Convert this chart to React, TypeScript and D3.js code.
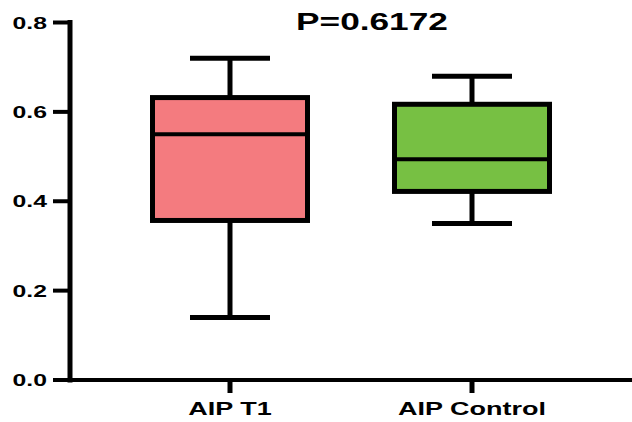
import React from 'react';
import * as d3 from 'd3';

const categories = ['AIP T1', 'AIP Control'];
const mins = [0.14, 0.35];
const q1s = [0.357, 0.422];
const medians = [0.55, 0.494];
const q3s = [0.632, 0.617];
const maxs = [0.72, 0.68];
const fills = ['#F47B7F', '#77C043'];
const yTicks = [0, 0.2, 0.4, 0.6, 0.8];
const title = 'P=0.6172';

const W = 632;
const H = 422;
const FONT = "'Liberation Sans', Arial, sans-serif";
const STRETCH = 1.5;

export default function App() {
  const y = d3.scaleLinear().domain([0, 0.8]).range([380, 22.5]);
  const x = d3.scalePoint<string>().domain(categories).range([230, 472]);
  const axisX = 70;
  const boxW = 155;
  const capW = 80;

  return (
    <svg
      width={W}
      height={H}
      style={{ position: 'absolute', left: 0, top: 0, background: '#fff' }}
    >
      {/* title */}
      <text
        transform={`translate(372,30) scale(${STRETCH},1)`}
        textAnchor="middle"
        fontFamily={FONT}
        fontWeight="bold"
        fontSize={23.5}
        fill="#000"
      >
        {title}
      </text>

      {/* boxes */}
      {categories.map((c, i) => {
        const cx = x(c) as number;
        return (
          <g key={c} stroke="#000" strokeWidth={5} fill="none">
            <line x1={cx} x2={cx} y1={y(maxs[i])} y2={y(q3s[i])} />
            <line x1={cx} x2={cx} y1={y(q1s[i])} y2={y(mins[i])} />
            <line x1={cx - capW / 2} x2={cx + capW / 2} y1={y(maxs[i])} y2={y(maxs[i])} />
            <line x1={cx - capW / 2} x2={cx + capW / 2} y1={y(mins[i])} y2={y(mins[i])} />
            <rect
              x={cx - boxW / 2}
              y={y(q3s[i])}
              width={boxW}
              height={y(q1s[i]) - y(q3s[i])}
              fill={fills[i]}
            />
            <line
              x1={cx - boxW / 2}
              x2={cx + boxW / 2}
              y1={y(medians[i])}
              y2={y(medians[i])}
              strokeWidth={4}
            />
          </g>
        );
      })}

      {/* y axis */}
      <line x1={axisX} x2={axisX} y1={y(0.8) - 2.5} y2={y(0) + 2.5} stroke="#000" strokeWidth={5} />
      {yTicks.map((t) => (
        <g key={t}>
          <line x1={53} x2={axisX} y1={y(t)} y2={y(t)} stroke="#000" strokeWidth={4} />
          <text
            transform={`translate(47,${y(t) + 6}) scale(${STRETCH},1)`}
            textAnchor="end"
            fontFamily={FONT}
            fontWeight="bold"
            fontSize={16.5}
            fill="#000"
          >
            {t.toFixed(1)}
          </text>
        </g>
      ))}

      {/* x axis */}
      <line x1={axisX} x2={W} y1={y(0)} y2={y(0)} stroke="#000" strokeWidth={4} />
      {categories.map((c) => {
        const cx = x(c) as number;
        return (
          <g key={c}>
            <line x1={cx} x2={cx} y1={y(0)} y2={y(0) + 13} stroke="#000" strokeWidth={5} />
            <text
              transform={`translate(${cx},415) scale(${STRETCH},1)`}
              textAnchor="middle"
              fontFamily={FONT}
              fontWeight="bold"
              fontSize={18}
              fill="#000"
            >
              {c}
            </text>
          </g>
        );
      })}
    </svg>
  );
}
